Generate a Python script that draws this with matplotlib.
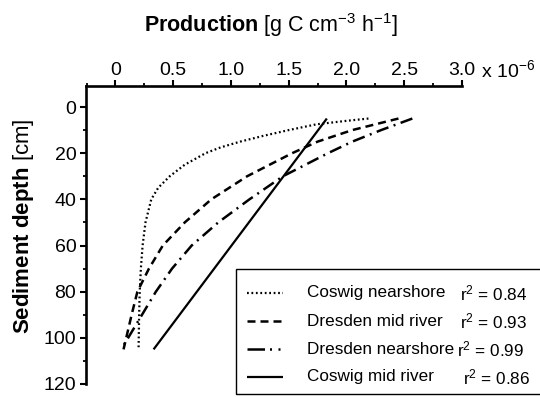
import matplotlib
matplotlib.use("Agg")
import matplotlib.pyplot as plt
from matplotlib.lines import Line2D
from matplotlib.patches import Rectangle
from matplotlib.ticker import MultipleLocator

plt.rcParams['font.family'] = ['Liberation Sans', 'DejaVu Sans']
plt.rcParams['mathtext.fontset'] = 'custom'
plt.rcParams['mathtext.rm'] = 'Liberation Sans'
plt.rcParams['mathtext.bf'] = 'Liberation Sans:bold'
plt.rcParams['mathtext.it'] = 'Liberation Sans:italic'

# ---- data (production in 1e-6 g C cm^-3 h^-1, depth in cm) ----
coswig_near_depth = [5, 6, 7.5, 10, 12.5, 15, 17.5, 20, 25, 30, 35, 40, 50, 60, 70, 80, 90, 105]
coswig_near_prod = [2.19, 2.0, 1.74, 1.50, 1.28, 1.08, 0.91, 0.78, 0.60, 0.47, 0.37, 0.31,
                    0.26, 0.235, 0.22, 0.21, 0.205, 0.20]

dresden_mid_depth = [5, 10, 15, 20, 30, 40, 50, 60, 70, 80, 90, 105]
dresden_mid_prod = [2.45, 2.05, 1.75, 1.53, 1.14, 0.83, 0.60, 0.41, 0.29, 0.19, 0.14, 0.07]

dresden_near_depth = [5, 10, 15, 20, 30, 40, 50, 60, 70, 80, 90, 105]
dresden_near_prod = [2.57, 2.30, 2.05, 1.84, 1.45, 1.16, 0.89, 0.66, 0.49, 0.35, 0.23, 0.05]

coswig_mid_depth = [5, 105]
coswig_mid_prod = [1.83, 0.33]

series_names = ["Coswig nearshore", "Dresden mid river", "Dresden nearshore", "Coswig mid river"]
r2_values = ["0.84", "0.93", "0.99", "0.86"]

x_ticks = [0, 0.5, 1.0, 1.5, 2.0, 2.5, 3.0]
x_tick_labels = ["0", "0.5", "1.0", "1.5", "2.0", "2.5", "3.0"]
y_ticks = [0, 20, 40, 60, 80, 100, 120]

# ---- styles ----
styles = [
    dict(linestyle=(0, (0.8, 1.2)), linewidth=1.6),
    dict(linestyle=(0, (3.2, 2.0)), linewidth=1.8),
    dict(linestyle=(0, (5.0, 2.2, 0.8, 2.2)), linewidth=1.8),
    dict(linestyle='-', linewidth=1.6),
]
legend_styles = [
    styles[0],
    styles[1],
    dict(linestyle=(0, (7.0, 2.0, 0.8, 2.6, 0.8, 3.0)), linewidth=1.8),
    styles[3],
]

W, H = 540, 397
X_LEFT, X_RIGHT = 86, 462
Y_ZERO, Y_120 = 107, 384
px_per_cm = (Y_120 - Y_ZERO) / 120.0
Y_TOP = Y_ZERO - 9 * px_per_cm

fig = plt.figure(figsize=(W / 100, H / 100), dpi=100)
ax = fig.add_axes([X_LEFT / W, 1 - Y_120 / H, (X_RIGHT - X_LEFT) / W, (Y_120 - Y_TOP) / H])

data = [(coswig_near_prod, coswig_near_depth),
        (dresden_mid_prod, dresden_mid_depth),
        (dresden_near_prod, dresden_near_depth),
        (coswig_mid_prod, coswig_mid_depth)]
for (xv, yv), st in zip(data, styles):
    ax.plot(xv, yv, color='black', solid_capstyle='butt', dash_capstyle='butt', **st)

ax.set_xlim(-0.255, 3.0)
ax.set_ylim(120, -9)
ax.xaxis.tick_top()
ax.set_xticks(x_ticks)
ax.set_xticklabels(x_tick_labels)
ax.set_yticks(y_ticks)
ax.xaxis.set_minor_locator(MultipleLocator(0.25))
ax.yaxis.set_minor_locator(MultipleLocator(10))
ax.spines['right'].set_visible(False)
ax.spines['bottom'].set_visible(False)
for s in ('top', 'left'):
    ax.spines[s].set_linewidth(1.9)
ax.tick_params(axis='both', which='major', direction='out', length=4, width=1.5,
               labelsize=14)
ax.tick_params(axis='x', which='major', pad=1.5)
ax.tick_params(axis='y', which='major', pad=3)
ax.tick_params(axis='both', which='minor', direction='out', length=2, width=1.3)
ax.tick_params(axis='x', which='both', top=True, bottom=False, labeltop=True, labelbottom=False)

# axis labels
fig.text(0.502, 1 - 25 / H, r"$\mathbf{Production}$ [g C cm$^{-3}$ h$^{-1}$]",
         ha='center', va='center', fontsize=15.5)
fig.text(24 / W, 1 - 226 / H, r"$\mathbf{Sediment\ depth}$ [cm]", rotation=90,
         ha='center', va='center', fontsize=16)
fig.text(481 / W, 1 - 70 / H, r"x 10$^{-6}$", ha='left', va='center', fontsize=14)

# legend box
fig.patches.append(Rectangle((236 / W, 1 - 394 / H), (545 - 236) / W, (394 - 269) / H,
                             transform=fig.transFigure, fill=False, edgecolor='black',
                             linewidth=1.0))
row_y = [293, 321, 349, 377]
r2_x = [460, 460, 456.7, 463.3]
for name, r2, st, ry, rx in zip(series_names, r2_values, legend_styles, row_y, r2_x):
    fig.add_artist(Line2D([247 / W, 283 / W], [1 - ry / H, 1 - ry / H],
                          transform=fig.transFigure, color='black',
                          solid_capstyle='butt', dash_capstyle='butt', **st))
    fig.text(307 / W, 1 - ry / H, name, ha='left', va='center', fontsize=12.3)
    fig.text(rx / W, 1 - ry / H, r"r$^2$ = " + r2, ha='left', va='center', fontsize=12.3)

fig.savefig("out.png", dpi=100)
